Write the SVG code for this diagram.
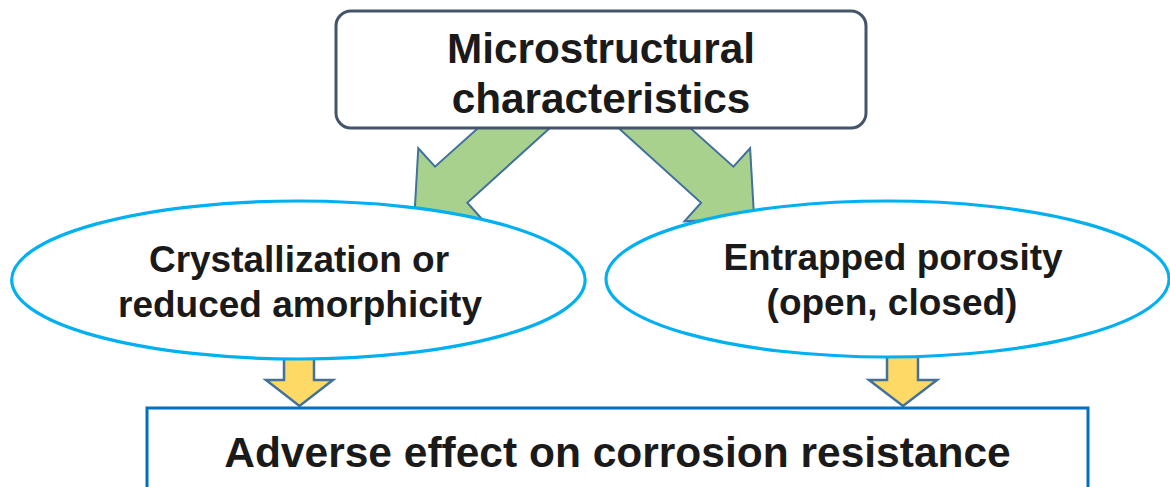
<svg xmlns="http://www.w3.org/2000/svg" width="1170" height="487" viewBox="0 0 1170 487">
<style>
.txt{font-family:"Liberation Sans",Arial,sans-serif;font-weight:bold;fill:#1a1a1a;text-anchor:middle}
.green{fill:#A9D18E;stroke:#41719C;stroke-width:2;stroke-linejoin:miter}
.yellow{fill:#FFD966;stroke:#41719C;stroke-width:2.5;stroke-linejoin:miter}
.ell{fill:#FFFFFF;stroke:#00B0F0;stroke-width:3.2}
</style>
<rect width="1170" height="487" fill="#FFFFFF"/>
<g id="connectors">
  <polygon id="arrow-left" class="green" points="498.2,110 435,166.7 418.3,148.3 414.3,217.9 484,221.3 467.3,202.7 569.8,110"/>
  <polygon id="arrow-right" class="green" transform="translate(1168.4,0) scale(-1,1)" points="498.2,110 435,166.7 418.3,148.3 414.3,217.9 484,221.3 467.3,202.7 569.8,110"/>
  <polygon id="arrow-down-left" class="yellow" points="284,350 314,350 314,380 333,380 299.5,406 266,380 284,380"/>
  <polygon id="arrow-down-right" class="yellow" points="887,350 918,350 918,380 937,380 903,406 869,380 887,380"/>
</g>
<g id="node-micro">
  <rect x="336" y="11" width="530" height="117" rx="15" ry="15" fill="#FFFFFF" stroke="#44546A" stroke-width="3"/>
  <text class="txt" x="601" y="63" font-size="42.3">Microstructural</text>
  <text class="txt" x="601" y="113" font-size="42.3">characteristics</text>
</g>
<g id="node-crystal">
  <ellipse class="ell" cx="298.4" cy="280" rx="286.7" ry="79"/>
  <text class="txt" x="299" y="272" font-size="37">Crystallization or</text>
  <text class="txt" x="300" y="317" font-size="37">reduced amorphicity</text>
</g>
<g id="node-porosity">
  <ellipse class="ell" cx="887.5" cy="279" rx="281.5" ry="78"/>
  <text class="txt" x="893" y="270" font-size="37">Entrapped porosity</text>
  <text class="txt" x="892" y="315" font-size="37">(open, closed)</text>
</g>
<g id="node-adverse">
  <rect x="147" y="408" width="941" height="110" fill="#FFFFFF" stroke="#0070C0" stroke-width="3"/>
  <text class="txt" x="617.5" y="467" font-size="42.5">Adverse effect on corrosion resistance</text>
</g>
</svg>
